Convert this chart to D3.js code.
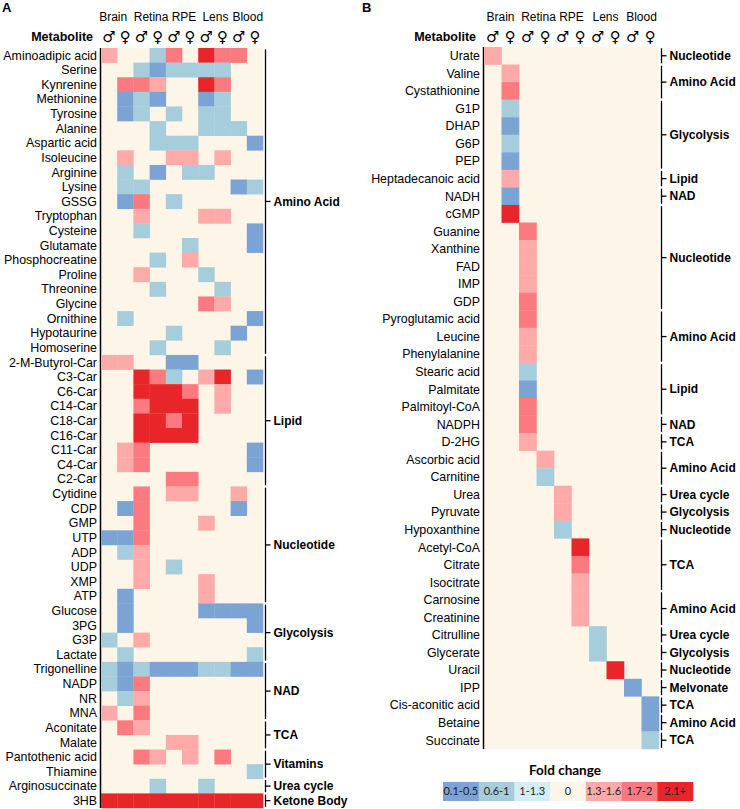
<!DOCTYPE html>
<html>
<head>
<meta charset="utf-8">
<script src="https://cdn.jsdelivr.net/npm/d3@7"></script>
<style>
  body { margin: 0; background: #fff; }
  text { font-family: "Liberation Sans", Arial, sans-serif; fill: #000; }
</style>
</head>
<body>
<script>
// fold change categories, level -3..3 maps to index 0..6
var foldLabels = ["0.1-0.5", "0.6-1", "1-1.3", "0", "1.3-1.6", "1.7-2", "2.1+"];
var foldColors = ["#7ba3d4", "#a6cddc", "#d5edf8", "#fdf5e8", "#fdaaa8", "#fb7a80", "#e8262a"];

var tissues = ["Brain", "Retina", "RPE", "Lens", "Blood"];
var sexes = ["\u2642", "\u2640"];

// Panel A: metabolites changed in more than one tissue
var metabolitesA = ["Aminoadipic acid", "Serine", "Kynrenine", "Methionine", "Tyrosine", "Alanine",
  "Aspartic acid", "Isoleucine", "Arginine", "Lysine", "GSSG", "Tryptophan", "Cysteine", "Glutamate",
  "Phosphocreatine", "Proline", "Threonine", "Glycine", "Ornithine", "Hypotaurine", "Homoserine",
  "2-M-Butyrol-Car", "C3-Car", "C6-Car", "C14-Car", "C18-Car", "C16-Car", "C11-Car", "C4-Car", "C2-Car",
  "Cytidine", "CDP", "GMP", "UTP", "ADP", "UDP", "XMP", "ATP",
  "Glucose", "3PG", "G3P", "Lactate",
  "Trigonelline", "NADP", "NR", "MNA",
  "Aconitate", "Malate", "Pantothenic acid", "Thiamine", "Arginosuccinate", "3HB"];

// columns: Brain M/F, Retina M/F, RPE M/F, Lens M/F, Blood M/F
var levelsA = [
  [1, 0, 0, -2, 2, 0, 3, 2, 2, 0],
  [0, 0, -2, -3, -2, -2, -2, -2, 0, 0],
  [0, 2, 2, 1, 0, 0, 3, 2, 0, 0],
  [0, -3, -2, -3, 0, 0, -3, -2, 0, 0],
  [0, -3, -2, 0, -2, 0, -2, -2, 0, 0],
  [0, 0, 0, -2, 0, 0, -2, -2, -2, 0],
  [0, 0, 0, -2, -2, -2, 0, 0, 0, -3],
  [0, 1, 0, 0, 1, 1, 0, 1, 0, 0],
  [0, -2, 0, -3, 0, -2, -2, 0, 0, 0],
  [0, -2, -2, 0, 0, 0, 0, 0, -3, -2],
  [0, -3, 2, 0, -2, 0, 0, 0, 0, 0],
  [0, 0, 1, 0, 0, 0, 1, 1, 0, 0],
  [0, 0, -2, 0, 0, 0, 0, 0, 0, -3],
  [0, 0, 0, 0, 0, -2, 0, 0, 0, -3],
  [0, 0, 0, -2, 0, 1, 0, 0, 0, 0],
  [0, 0, 1, 0, 0, 0, -2, 0, 0, 0],
  [0, 0, 0, -2, 0, 0, 0, -2, 0, 0],
  [0, 0, 0, 0, 0, 0, 2, 1, 0, 0],
  [0, -2, 0, 0, 0, 0, 0, 0, 0, -3],
  [0, 0, 0, 0, -2, 0, 0, 0, -3, 0],
  [0, 0, 0, -2, 0, 0, 0, -2, 0, 0],
  [1, 1, 0, 0, -3, -3, 0, 0, 0, 0],
  [0, 0, 3, 2, -2, 0, 1, 3, 0, -3],
  [0, 0, 3, 3, 3, 2, 0, 1, 0, 0],
  [0, 0, 2, 3, 3, 3, 0, 1, 0, 0],
  [0, 0, 3, 3, 2, 3, 0, 0, 0, 0],
  [0, 0, 3, 3, 3, 3, 0, 0, 0, 0],
  [0, 1, 2, 0, 0, 0, 0, 0, 0, -3],
  [0, 1, 2, 0, 0, 0, 0, 0, 0, -3],
  [0, 0, 0, 0, 2, 2, 0, 0, 0, 0],
  [0, 0, 2, 0, 1, 1, 0, 0, 1, 0],
  [0, -3, 2, 0, 0, 0, 0, 0, -3, 0],
  [0, 0, 2, 0, 0, 0, 1, 0, 0, 0],
  [-3, -3, 2, 0, 0, 0, 0, 0, 0, 0],
  [0, -2, 1, 0, 0, 0, 0, 0, 0, 0],
  [0, 0, 1, 0, -2, 0, 0, 0, 0, 0],
  [0, 0, 1, 0, 0, 0, 1, 0, 0, 0],
  [0, -3, 0, 0, 0, 0, 1, 0, 0, 0],
  [0, -3, 0, 0, 0, 0, -3, -3, -3, -3],
  [0, -3, 0, 0, 0, 0, 0, 0, 0, -3],
  [-2, 0, 1, 0, 0, 0, 0, 0, 0, 0],
  [0, -2, 0, 0, 0, 0, 0, 0, 0, -2],
  [-2, -3, -2, -3, -3, -3, -2, -2, -3, -3],
  [-2, -3, 2, 0, 0, 0, 0, 0, 0, 0],
  [0, -2, 1, 0, 0, 0, 0, 0, 0, 0],
  [1, 0, 2, 0, 0, 0, 0, 0, 0, 0],
  [0, 2, 1, 0, 0, 0, 0, 0, 0, 0],
  [0, 0, 0, 0, 1, 1, 0, 0, 0, 0],
  [0, 0, 2, 1, 0, 1, 0, 2, 0, 0],
  [0, 0, 0, 0, 0, 0, 0, 0, 0, -2],
  [0, 0, 0, -2, 0, 0, -2, 0, 0, 0],
  [3, 3, 3, 3, 3, 3, 3, 3, 3, 3]
];

var groupNamesA = ["Amino Acid", "Lipid", "Nucleotide", "Glycolysis", "NAD", "TCA", "Vitamins", "Urea cycle", "Ketone Body"];
var groupSizesA = [21, 9, 8, 4, 4, 2, 2, 1, 1];

// Panel B: metabolites changed in a single tissue/sex
var metabolitesB = ["Urate", "Valine", "Cystathionine", "G1P", "DHAP", "G6P", "PEP", "Heptadecanoic acid",
  "NADH", "cGMP", "Guanine", "Xanthine", "FAD", "IMP", "GDP", "Pyroglutamic acid", "Leucine",
  "Phenylalanine", "Stearic acid", "Palmitate", "Palmitoyl-CoA", "NADPH", "D-2HG", "Ascorbic acid",
  "Carnitine", "Urea", "Pyruvate", "Hypoxanthine", "Acetyl-CoA", "Citrate", "Isocitrate", "Carnosine",
  "Creatinine", "Citrulline", "Glycerate", "Uracil", "IPP", "Cis-aconitic acid", "Betaine", "Succinate"];
var columnB = [0, 1, 1, 1, 1, 1, 1, 1, 1, 1, 2, 2, 2, 2, 2, 2, 2, 2, 2, 2, 2, 2, 2, 3, 3, 4, 4, 4,
  5, 5, 5, 5, 5, 6, 6, 7, 8, 9, 9, 9];
var levelB = [1, 1, 2, -2, -3, -2, -3, 1, -3, 3, 2, 1, 1, 1, 2, 2, 1, 1, -2, -3, 2, 2, 1, 1, -2, 1, 1, -2,
  3, 2, 1, 1, 1, -2, -2, 3, -3, -3, -3, -2];

var groupNamesB = ["Nucleotide", "Amino Acid", "Glycolysis", "Lipid", "NAD", "Nucleotide", "Amino Acid",
  "Lipid", "NAD", "TCA", "Amino Acid", "Urea cycle", "Glycolysis", "Nucleotide", "TCA", "Amino Acid",
  "Urea cycle", "Glycolysis", "Nucleotide", "Melvonate", "TCA", "Amino Acid", "TCA"];
var groupSizesB = [1, 2, 4, 1, 1, 6, 3, 3, 1, 1, 2, 1, 1, 1, 3, 2, 1, 1, 1, 1, 1, 1, 1];

var W = 740, H = 809;
var svg = d3.select("body").append("svg")
  .attr("width", W)
  .attr("height", H);

var columns = [];
tissues.forEach(function(t) {
  sexes.forEach(function(s) { columns.push(t + s); });
});

var color = d3.scaleOrdinal().domain(d3.range(-3, 4)).range(foldColors);

function drawPanel(cfg) {
  var g = svg.append("g");
  var x = d3.scaleBand().domain(columns).range([cfg.x0, cfg.x1]);
  var y = d3.scaleBand().domain(d3.range(cfg.names.length)).range([cfg.y0, cfg.y1]);

  // panel letter
  g.append("text")
    .attr("x", cfg.letterX).attr("y", 12)
    .style("font-weight", "bold").style("font-size", "13px")
    .text(cfg.letter);

  // tissue header (narrow panel A needs a little nudging so names don't touch)
  tissues.forEach(function(t, i) {
    g.append("text")
      .attr("x", (x(columns[i * 2]) + x(columns[i * 2 + 1]) + x.bandwidth()) / 2 + cfg.headDx[i])
      .attr("y", 21)
      .attr("text-anchor", "middle")
      .style("font-size", "12px")
      .text(t);
  });
  g.selectAll(".sex").data(columns).enter().append("text")
    .attr("x", function(d) { return x(d) + x.bandwidth() / 2; })
    .attr("y", 42)
    .attr("text-anchor", "middle")
    .style("font-family", "DejaVu Sans")
    .style("font-size", "15px")
    .style("font-weight", "bold")
    .text(function(d) { return d.slice(-1); });
  g.append("text")
    .attr("x", cfg.x0 - 8).attr("y", 41)
    .attr("text-anchor", "end")
    .style("font-weight", "bold").style("font-size", "12.5px")
    .text("Metabolite");

  // background
  g.append("rect")
    .attr("x", cfg.x0).attr("y", cfg.y0)
    .attr("width", cfg.x1 - cfg.x0).attr("height", cfg.y1 - cfg.y0)
    .attr("fill", color(0));

  // left axis line
  g.append("line")
    .attr("x1", cfg.x0 - 0.5).attr("x2", cfg.x0 - 0.5)
    .attr("y1", cfg.y0).attr("y2", cfg.y1)
    .attr("stroke", "#000").attr("stroke-width", 1.5);

  // cells
  g.selectAll(".cell").data(cfg.cells.filter(function(c) { return c.v !== 0; }))
    .enter().append("rect")
    .attr("x", function(c) { return x(columns[c.col]); })
    .attr("y", function(c) { return y(c.row); })
    .attr("width", x.bandwidth() + 0.3)
    .attr("height", y.bandwidth() + 0.3)
    .attr("fill", function(c) { return color(c.v); });

  // row labels
  g.selectAll(".lab").data(cfg.names).enter().append("text")
    .attr("x", cfg.x0 - 4)
    .attr("y", function(d, i) { return y(i) + y.bandwidth() / 2; })
    .attr("dy", "0.35em")
    .attr("text-anchor", "end")
    .style("font-size", "12.4px")
    .text(function(d) { return d; });

  // group brackets
  var start = 0;
  var bx = cfg.x1 + 2.5;
  cfg.groups.forEach(function(name, i) {
    var n = cfg.sizes[i];
    var top = y(start) + 1.2, bot = y(start + n - 1) + y.bandwidth() - 1.2;
    var mid = (y(start) + y(start + n - 1) + y.bandwidth()) / 2;
    g.append("line")
      .attr("x1", bx).attr("x2", bx).attr("y1", top).attr("y2", bot)
      .attr("stroke", "#000").attr("stroke-width", 1.3);
    g.append("line")
      .attr("x1", bx).attr("x2", bx + 5).attr("y1", mid).attr("y2", mid)
      .attr("stroke", "#000").attr("stroke-width", 1.3);
    g.append("text")
      .attr("x", bx + 8).attr("y", mid)
      .attr("dy", "0.35em")
      .style("font-weight", "bold").style("font-size", "12px")
      .text(name);
    start += n;
  });
}

var cellsA = [];
levelsA.forEach(function(row, r) {
  row.forEach(function(v, c) { cellsA.push({ row: r, col: c, v: v }); });
});
var cellsB = metabolitesB.map(function(m, r) {
  return { row: r, col: columnB[r], v: levelB[r] };
});

drawPanel({ letter: "A", letterX: 2, names: metabolitesA, cells: cellsA,
  groups: groupNamesA, sizes: groupSizesA, x0: 101, x1: 263, y0: 48, y1: 808,
  headDx: [-4, 1.5, 2, 1, 1] });
drawPanel({ letter: "B", letterX: 362, names: metabolitesB, cells: cellsB,
  groups: groupNamesB, sizes: groupSizesB, x0: 484, x1: 659, y0: 47, y1: 749,
  headDx: [-1, 2, 0, -1, 0] });

// legend
var lx = d3.scaleBand().domain(foldLabels).range([443, 693]);
svg.append("text")
  .attr("x", 565).attr("y", 775)
  .attr("text-anchor", "middle")
  .style("font-family", "Lato, 'Open Sans', sans-serif")
  .style("font-weight", "bold").style("font-size", "13.5px")
  .text("Fold change");
var leg = svg.selectAll(".leg").data(foldLabels).enter().append("g");
leg.append("rect")
  .attr("x", function(d) { return lx(d); })
  .attr("y", 782)
  .attr("width", lx.bandwidth() + 0.3)
  .attr("height", 19)
  .attr("fill", function(d, i) { return foldColors[i]; });
leg.append("text")
  .attr("x", function(d) { return lx(d) + lx.bandwidth() / 2; })
  .attr("y", 791.5)
  .attr("dy", "0.35em")
  .attr("text-anchor", "middle")
  .style("font-family", "Lato, 'Open Sans', sans-serif")
  .style("font-size", "11px")
  .style("fill", "#222")
  .text(function(d) { return d; });
</script>
</body>
</html>
